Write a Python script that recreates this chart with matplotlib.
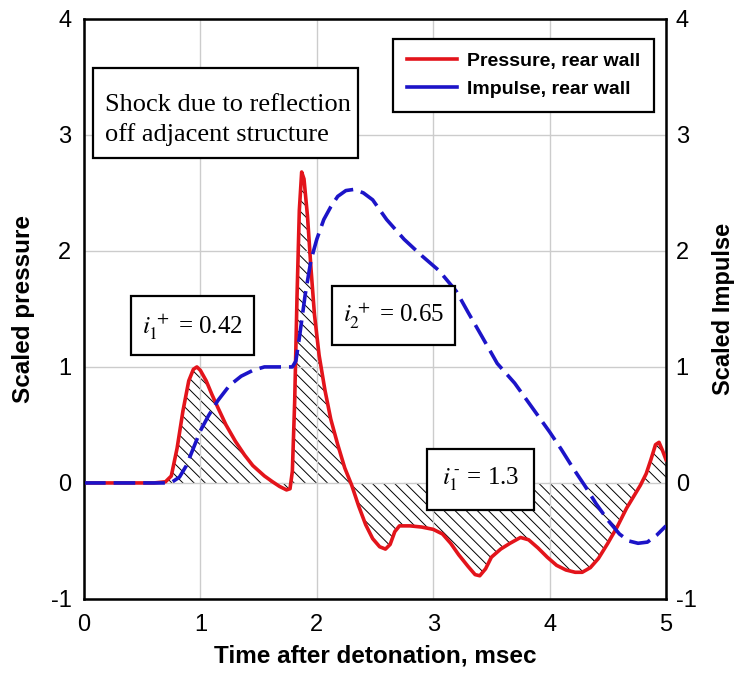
import matplotlib.pyplot as plt
from matplotlib.lines import Line2D
from matplotlib.patches import Rectangle

# pressure on rear wall
t_p = [0, 0.3, 0.6, 0.7, 0.75, 0.8, 0.85, 0.9, 0.94, 0.97, 1.0, 1.05, 1.1, 1.15, 1.22, 1.3,
       1.38, 1.45, 1.55, 1.62, 1.68, 1.74, 1.77, 1.79, 1.81, 1.83, 1.85, 1.87, 1.89, 1.92,
       1.95, 1.98, 2.02, 2.07, 2.12, 2.18, 2.24, 2.3, 2.36, 2.42, 2.48, 2.54, 2.59, 2.63,
       2.67, 2.71, 2.8, 2.9, 3.0, 3.08, 3.15, 3.22, 3.3, 3.36, 3.4, 3.45, 3.5, 3.58, 3.66,
       3.75, 3.82, 3.9, 3.98, 4.06, 4.14, 4.22, 4.28, 4.35, 4.42, 4.5, 4.58, 4.66, 4.72,
       4.78, 4.83, 4.87, 4.91, 4.94, 4.97, 5.0]
p = [0, 0, 0, 0.01, 0.06, 0.3, 0.62, 0.88, 0.98, 1.0, 0.97, 0.88, 0.76, 0.65, 0.5, 0.36,
     0.24, 0.15, 0.06, 0.01, -0.03, -0.06, -0.05, 0.1, 0.7, 1.6, 2.35, 2.68, 2.62, 2.3,
     1.85, 1.45, 1.1, 0.8, 0.55, 0.33, 0.13, -0.02, -0.2, -0.36, -0.48, -0.55, -0.57, -0.53,
     -0.42, -0.37, -0.37, -0.38, -0.4, -0.44, -0.52, -0.62, -0.72, -0.79, -0.8, -0.74, -0.64,
     -0.57, -0.52, -0.47, -0.49, -0.56, -0.64, -0.71, -0.75, -0.77, -0.77, -0.73, -0.65,
     -0.52, -0.38, -0.22, -0.12, -0.02, 0.08, 0.2, 0.33, 0.35, 0.28, 0.2]

# impulse on rear wall
t_i = [0, 0.5, 0.7, 0.76, 0.82, 0.88, 0.94, 1.0, 1.07, 1.15, 1.25, 1.35, 1.45, 1.55, 1.65,
       1.75, 1.79, 1.82, 1.85, 1.9, 1.95, 2.0, 2.06, 2.12, 2.18, 2.25, 2.32, 2.4, 2.48, 2.6,
       2.75, 2.9, 3.05, 3.2, 3.3, 3.42, 3.55, 3.7, 3.85, 4.0, 4.1, 4.2, 4.3, 4.4, 4.5, 4.6,
       4.68, 4.76, 4.84, 4.92, 5.0]
imp = [0, 0, 0, 0.01, 0.05, 0.15, 0.3, 0.45, 0.58, 0.71, 0.84, 0.92, 0.97, 1.0, 1.0,
       1.0, 1.0, 1.05, 1.25, 1.62, 1.92, 2.1, 2.27, 2.38, 2.47, 2.52, 2.53, 2.5, 2.44, 2.27,
       2.1, 1.96, 1.83, 1.65, 1.47, 1.26, 1.03, 0.86, 0.65, 0.44, 0.29, 0.13, -0.02, -0.18,
       -0.32, -0.44, -0.5, -0.52, -0.51, -0.45, -0.37]

# annotation boxes: (x0, y0, x1, y1) in data units, text, text x, text y
notes = [
    ((0.40, 1.10, 1.46, 1.61), r'$i_1^{\,+}$ = 0.42', 0.93, 1.35),
    ((2.13, 1.19, 3.19, 1.70), r'$i_2^{\,+}$ = 0.65', 2.66, 1.44),
    ((2.95, -0.23, 3.87, 0.29), r'$i_1^{\,\text{-}}$ = 1.3', 3.41, 0.03),
]

plt.rcParams['mathtext.fontset'] = 'stix'
plt.rcParams['axes.unicode_minus'] = False
plt.rcParams['hatch.linewidth'] = 0.7
sans = 'Liberation Sans'
serif = 'Liberation Serif'
red = '#e3141b'
blue = '#1c14c8'

fig = plt.figure(figsize=(7.4, 6.73), dpi=100)
ax = fig.add_axes([0.1135, 0.110, 0.7865, 0.862])

ax.fill_between(t_p, p, 0, facecolor='none', edgecolor='k', hatch='\\\\\\', linewidth=0)
ax.plot(t_p, p, color=red, lw=2.6, zorder=3)
ln, = ax.plot(t_i, imp, color=blue, lw=2.6, zorder=4)
ln.set_dashes([6, 2.2])

ax.set_xlim(0, 5)
ax.set_ylim(-1, 4)
ax.set_xticks(range(6))
ax.set_yticks(range(-1, 5))
ax.grid(color='#cccccc', lw=1)
ax.tick_params(axis='x', length=0, labelsize=17, pad=11)
ax.tick_params(axis='y', length=0, labelsize=17, pad=9)
for lab in ax.get_xticklabels() + ax.get_yticklabels():
    lab.set_family(sans)
for s in ax.spines.values():
    s.set_linewidth(1.8)
ax.set_xlabel('Time after detonation, msec', fontsize=17.5, fontweight='bold', family=sans, labelpad=6)
ax.set_ylabel('Scaled pressure', fontsize=17.5, fontweight='bold', family=sans, labelpad=11)

ax2 = ax.twinx()
ax2.set_ylim(-1, 4)
ax2.set_yticks(range(-1, 5))
ax2.tick_params(length=0, labelsize=17, pad=7)
for lab in ax2.get_yticklabels():
    lab.set_family(sans)
ax2.set_ylabel('Scaled Impulse', fontsize=17, fontweight='bold', family=sans, labelpad=11)

# shock note
ax.add_patch(Rectangle((0.075, 2.80), 2.275, 0.775, facecolor='white', edgecolor='k', lw=1.6, zorder=6))
ax.text(0.18, 3.13, 'Shock due to reflection\noff adjacent structure', fontsize=19,
        family=serif, ha='left', va='center', linespacing=1.4, zorder=7)

for (x0, y0, x1, y1), txt, tx, ty in notes:
    ax.add_patch(Rectangle((x0, y0), x1 - x0, y1 - y0, facecolor='white', edgecolor='k', lw=1.6, zorder=6))
    ax.text(tx, ty, txt, fontsize=18, family=serif, ha='center', va='center', zorder=7)

handles = [Line2D([0], [0], color=red, lw=2.6), Line2D([0], [0], color=blue, lw=2.6)]
leg = ax2.legend(handles, ['Pressure, rear wall', 'Impulse, rear wall'], loc='upper right',
                 bbox_to_anchor=(0.979, 0.966), prop={'family': sans, 'weight': 'bold', 'size': 14},
                 fancybox=False, framealpha=1, edgecolor='k', handlelength=2.6, handletextpad=0.5,
                 borderpad=0.7, borderaxespad=0, labelspacing=0.55)
leg.get_frame().set_linewidth(1.6)

fig.savefig('out.png', dpi=100)
